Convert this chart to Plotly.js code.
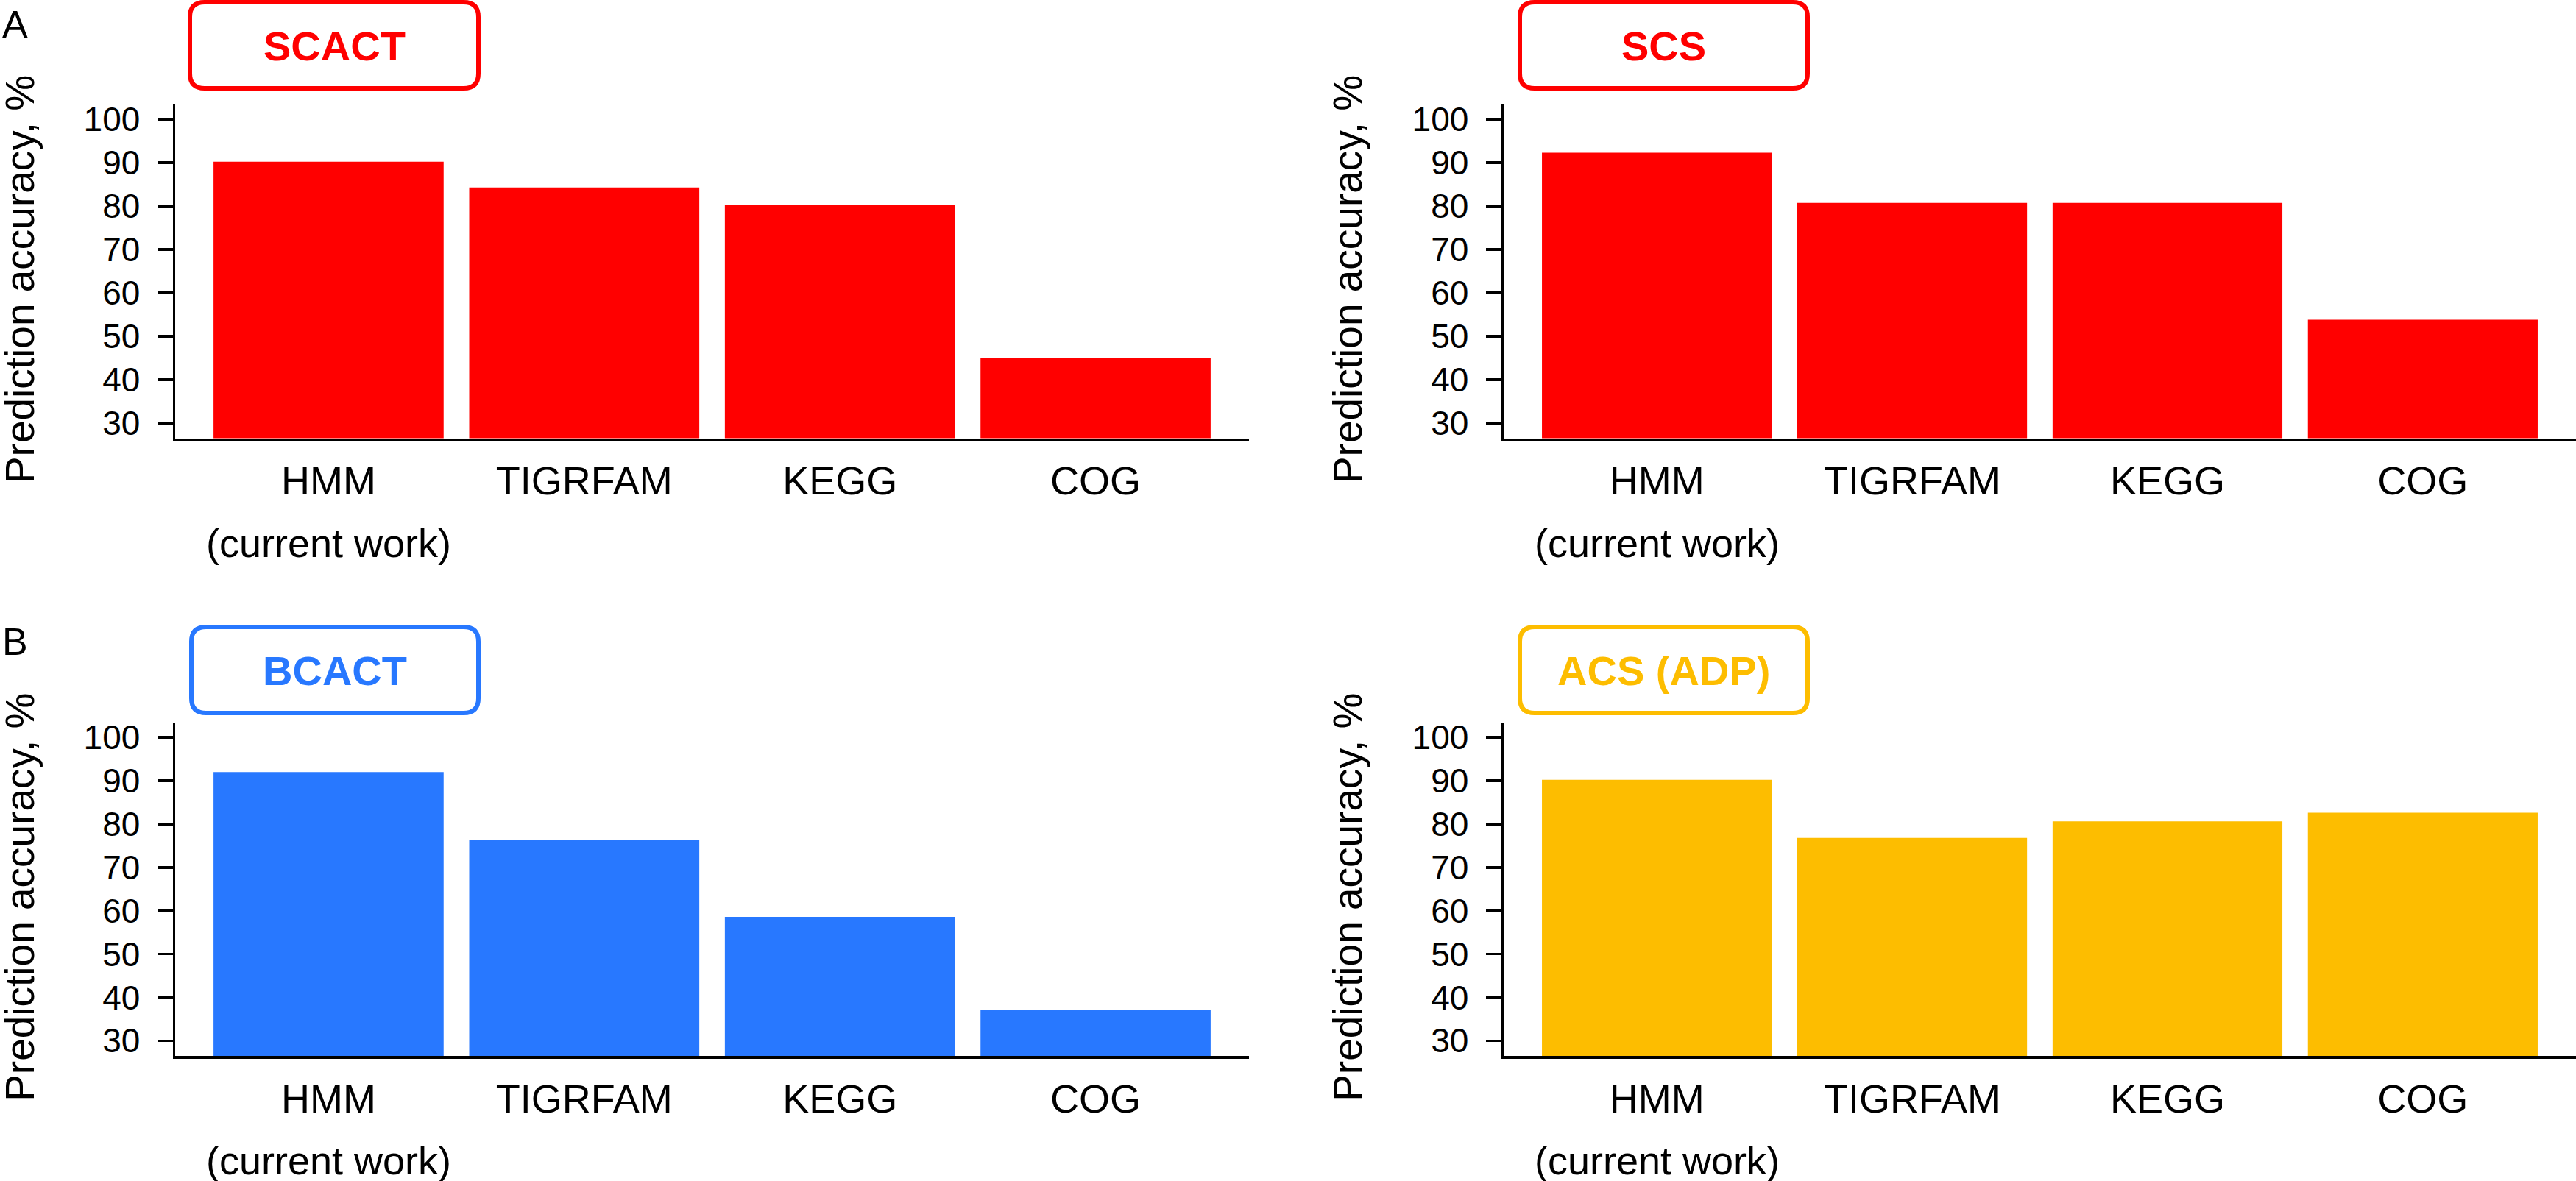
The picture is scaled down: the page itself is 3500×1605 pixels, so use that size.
<!DOCTYPE html>
<html>
<head>
<meta charset="utf-8">
<script src="https://cdn.plot.ly/plotly-3.0.1.min.js"></script>
<style>html,body{margin:0;padding:0;background:#fff;}#chart{width:3500px;height:1605px;}</style>
</head>
<body>
<div id="chart"></div>
<script>
// ---- data ----
const categories = ['HMM', 'TIGRFAM', 'KEGG', 'COG'];
const scactValues = [90.2, 84.3, 80.3, 44.9];
const scsValues = [92.3, 80.7, 80.7, 53.8];
const bcactValues = [92.0, 76.4, 58.6, 37.1];
const acsAdpValues = [90.2, 76.8, 80.6, 82.6];
const panelNames = ['SCACT', 'SCS', 'BCACT', 'ACS (ADP)'];
const panelLetters = ['A', 'B'];
const yTickValues = [30, 40, 50, 60, 70, 80, 90, 100];
const yTitleText = 'Prediction accuracy, %';
const hmmNote = '(current work)';

// ---- style ----
const W = 3500, H = 1605;
const RED = '#FF0000', BLUE = '#2878FF', YELLOW = '#FDBD00';
const FONT = 'Liberation Sans, Arial, Helvetica, sans-serif';
const NARROW = 'Liberation Sans Narrow, Arial Narrow, Liberation Sans, Arial, sans-serif';
const px = x => x / W;
const py = y => 1 - y / H;

const panels = [
  {values: scactValues, name: panelNames[0], color: RED, xd: [238, 1697], yd: [142, 595.5], box: [258, 650, 3, 120], ytx: 27},
  {values: scsValues, name: panelNames[1], color: RED, xd: [2043, 3500], yd: [142, 595.5], box: [2065, 2456, 3, 120], ytx: 1831},
  {values: bcactValues, name: panelNames[2], color: BLUE, xd: [238, 1697], yd: [982, 1435], box: [260, 650, 852, 969], ytx: 27},
  {values: acsAdpValues, name: panelNames[3], color: YELLOW, xd: [2043, 3500], yd: [982, 1435], box: [2065, 2456, 852, 969], ytx: 1831}
];

function roundRect(L, R, T, B, r) {
  const P = (x, y) => px(x) + ',' + py(y);
  return 'M' + P(L + r, T) + ' L' + P(R - r, T) + ' Q' + P(R, T) + ' ' + P(R, T + r) +
    ' L' + P(R, B - r) + ' Q' + P(R, B) + ' ' + P(R - r, B) +
    ' L' + P(L + r, B) + ' Q' + P(L, B) + ' ' + P(L, B - r) +
    ' L' + P(L, T + r) + ' Q' + P(L, T) + ' ' + P(L + r, T) + ' Z';
}

const data = [];
const layout = {
  width: W, height: H,
  margin: {l: 0, r: 0, t: 0, b: 0, pad: 0},
  paper_bgcolor: '#fff', plot_bgcolor: 'rgba(0,0,0,0)',
  showlegend: false,
  bargap: 0.1,
  shapes: [], annotations: []
};

panels.forEach((p, i) => {
  const n = i === 0 ? '' : String(i + 1);
  data.push({
    type: 'bar', x: categories, y: p.values,
    xaxis: 'x' + n, yaxis: 'y' + n,
    marker: {color: p.color, line: {width: 0}},
    hoverinfo: 'x+y'
  });
  layout['xaxis' + n] = {
    domain: [px(p.xd[0]), px(p.xd[1])],
    anchor: 'y' + n,
    type: 'category',
    range: [-0.6, 3.6],
    showline: true, linecolor: '#000', linewidth: 4,
    ticks: '', showgrid: false, zeroline: false,
    tickfont: {family: FONT, size: 54, color: '#000'},
    ticklabelstandoff: 8,
    fixedrange: true
  };
  layout['yaxis' + n] = {
    domain: [py(p.yd[1]), py(p.yd[0])],
    anchor: 'x' + n,
    range: [26.5, 103.4],
    tickmode: 'array', tickvals: yTickValues,
    ticktext: yTickValues.map(String),
    showline: true, linecolor: '#000', linewidth: 3.5,
    ticks: 'outside', ticklen: 21, tickwidth: 3.5, tickcolor: '#000',
    showgrid: false, zeroline: false,
    tickfont: {family: FONT, size: 46, color: '#000'},
    ticklabelstandoff: 14,
    fixedrange: true
  };
  const b = p.box;
  layout.shapes.push({
    type: 'path', xref: 'paper', yref: 'paper',
    path: roundRect(b[0], b[1], b[2], b[3], 20),
    line: {color: p.color, width: 6}, fillcolor: 'rgba(0,0,0,0)'
  });
  layout.annotations.push({
    xref: 'paper', yref: 'paper',
    x: px((b[0] + b[1]) / 2), y: py((b[2] + b[3]) / 2 + 1),
    xanchor: 'center', yanchor: 'middle',
    text: '<b>' + p.name + '</b>', showarrow: false,
    font: {family: NARROW, size: 56, color: p.color}
  });
  layout.annotations.push({
    xref: 'paper', yref: 'y' + n + ' domain',
    x: px(p.ytx), y: 0.475,
    xanchor: 'center', yanchor: 'middle', textangle: -90,
    text: yTitleText, showarrow: false,
    font: {family: FONT, size: 55, color: '#000'}
  });
  layout.annotations.push({
    xref: 'x' + n, yref: 'y' + n + ' domain',
    x: categories[0], y: -0.314,
    xanchor: 'center', yanchor: 'middle',
    text: hmmNote, showarrow: false,
    font: {family: FONT, size: 54, color: '#000'}
  });
});

layout.annotations.push({
  xref: 'paper', yref: 'paper', x: px(1), y: py(33), xanchor: 'left', yanchor: 'middle',
  text: panelLetters[0], showarrow: false, font: {family: FONT, size: 52, color: '#000'}
});
layout.annotations.push({
  xref: 'paper', yref: 'paper', x: px(1), y: py(872), xanchor: 'left', yanchor: 'middle',
  text: panelLetters[1], showarrow: false, font: {family: FONT, size: 52, color: '#000'}
});

Plotly.newPlot('chart', data, layout, {displayModeBar: false, staticPlot: true});
</script>
</body>
</html>
